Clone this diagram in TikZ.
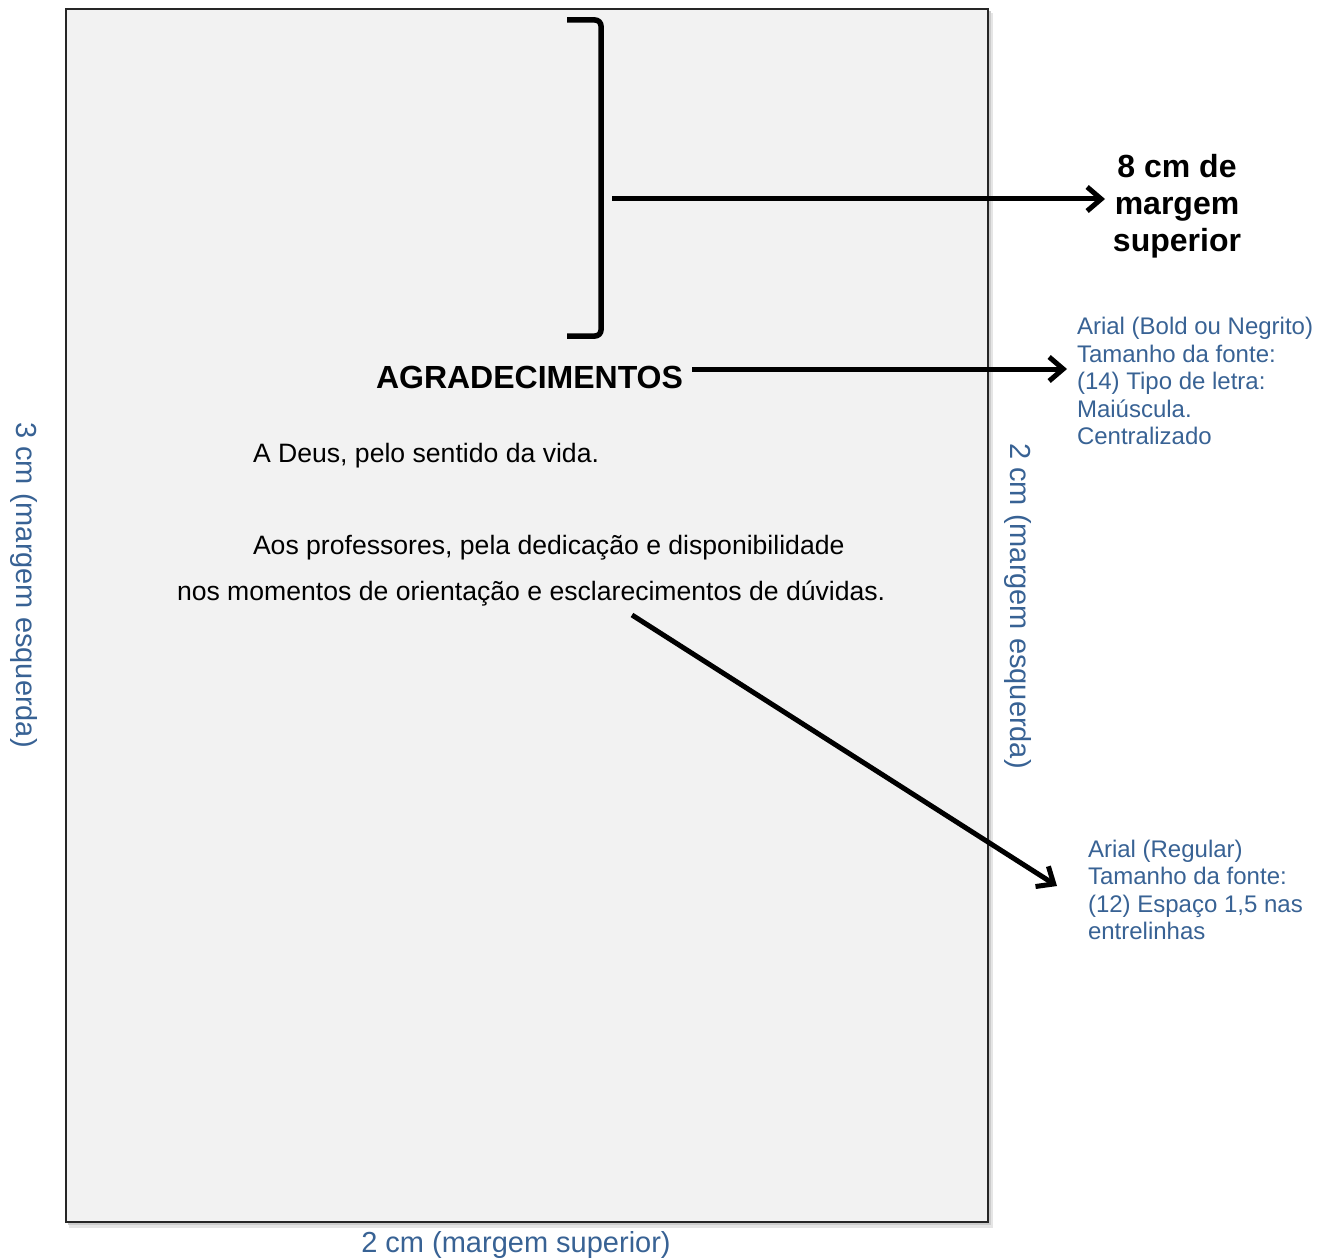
\documentclass[tikz,border=0pt]{standalone}
\usepackage{fontspec}
\setmainfont{Liberation Sans}
\usetikzlibrary{arrows.meta}
\definecolor{notecol}{RGB}{56,98,148}
\definecolor{pagecol}{RGB}{242,242,242}
\tikzset{
  every node/.style={inner sep=0pt, outer sep=0pt},
  pointer/.style={line width=5pt, -{Straight Barb[length=14pt,width=24pt]}},
  bodytext/.style={font=\fontsize{26.6}{46}\selectfont, anchor=base west},
  headtext/.style={font=\fontsize{32}{37}\selectfont\bfseries},
  note/.style={font=\fontsize{24}{27.5}\selectfont, text=notecol, align=left, anchor=base west},
  marginlabel/.style={font=\fontsize{29}{34}\selectfont, text=notecol},
}
\begin{document}
\begin{tikzpicture}[x=1pt, y=-1pt]
\useasboundingbox (0,0) rectangle (1331,1260);
% page with a soft drop shadow
\fill[black!10] (69,13) rectangle (993,1228);
\fill[black!20] (68,11) rectangle (991,1225);
\draw[line width=2pt, fill=pagecol, draw=black!85] (66,9) rectangle (988,1222);

% bracket spanning the top margin
\draw[line width=5.5pt, rounded corners=6pt] (567,20) -- (601,20) -- (601,336) -- (567,336);
\coordinate (brk) at (612,199);

% title and body text
\node[headtext, anchor=base west] (title) at (376,388) {AGRADECIMENTOS};
\node[bodytext] (deus) at (253,462) {A Deus, pelo sentido da vida.};
\node[bodytext] (prof1) at (253,554) {Aos professores, pela dedicação e disponibilidade};
\node[bodytext] (prof2) at (177,600) {nos momentos de orientação e esclarecimentos de dúvidas.};

% annotations on the right (base anchor sits on the last line)
\node[headtext, align=center, anchor=base] (top) at (1177,252) {8 cm de\\margem\\superior};
\node[note] (titlenote) at (1077,444.5) {Arial (Bold ou Negrito)\\Tamanho da fonte:\\(14) Tipo de letra:\\Maiúscula.\\Centralizado};
\node[note] (bodynote) at (1088,939.5) {Arial (Regular)\\Tamanho da fonte:\\(12) Espaço 1,5 nas\\entrelinhas};

% margin labels
\node[marginlabel, rotate=-90] (left) at (24,585) {3 cm (margem esquerda)};
\node[marginlabel, rotate=-90] (right) at (1018,606) {2 cm (margem esquerda)};
\node[marginlabel] (bottom) at (516,1245) {2 cm (margem superior)};

% connectors
\coordinate (titleend) at (692,369);
\coordinate (bodystart) at (632,615);
\coordinate (topend) at (1105,199);
\coordinate (titlenoteend) at (1067,369);
\coordinate (bodynoteend) at (1057,886);
\draw[pointer] (brk) -- (topend);
\draw[pointer] (titleend) -- (titlenoteend);
\draw[pointer] (bodystart) -- (bodynoteend);
\end{tikzpicture}
\end{document}
